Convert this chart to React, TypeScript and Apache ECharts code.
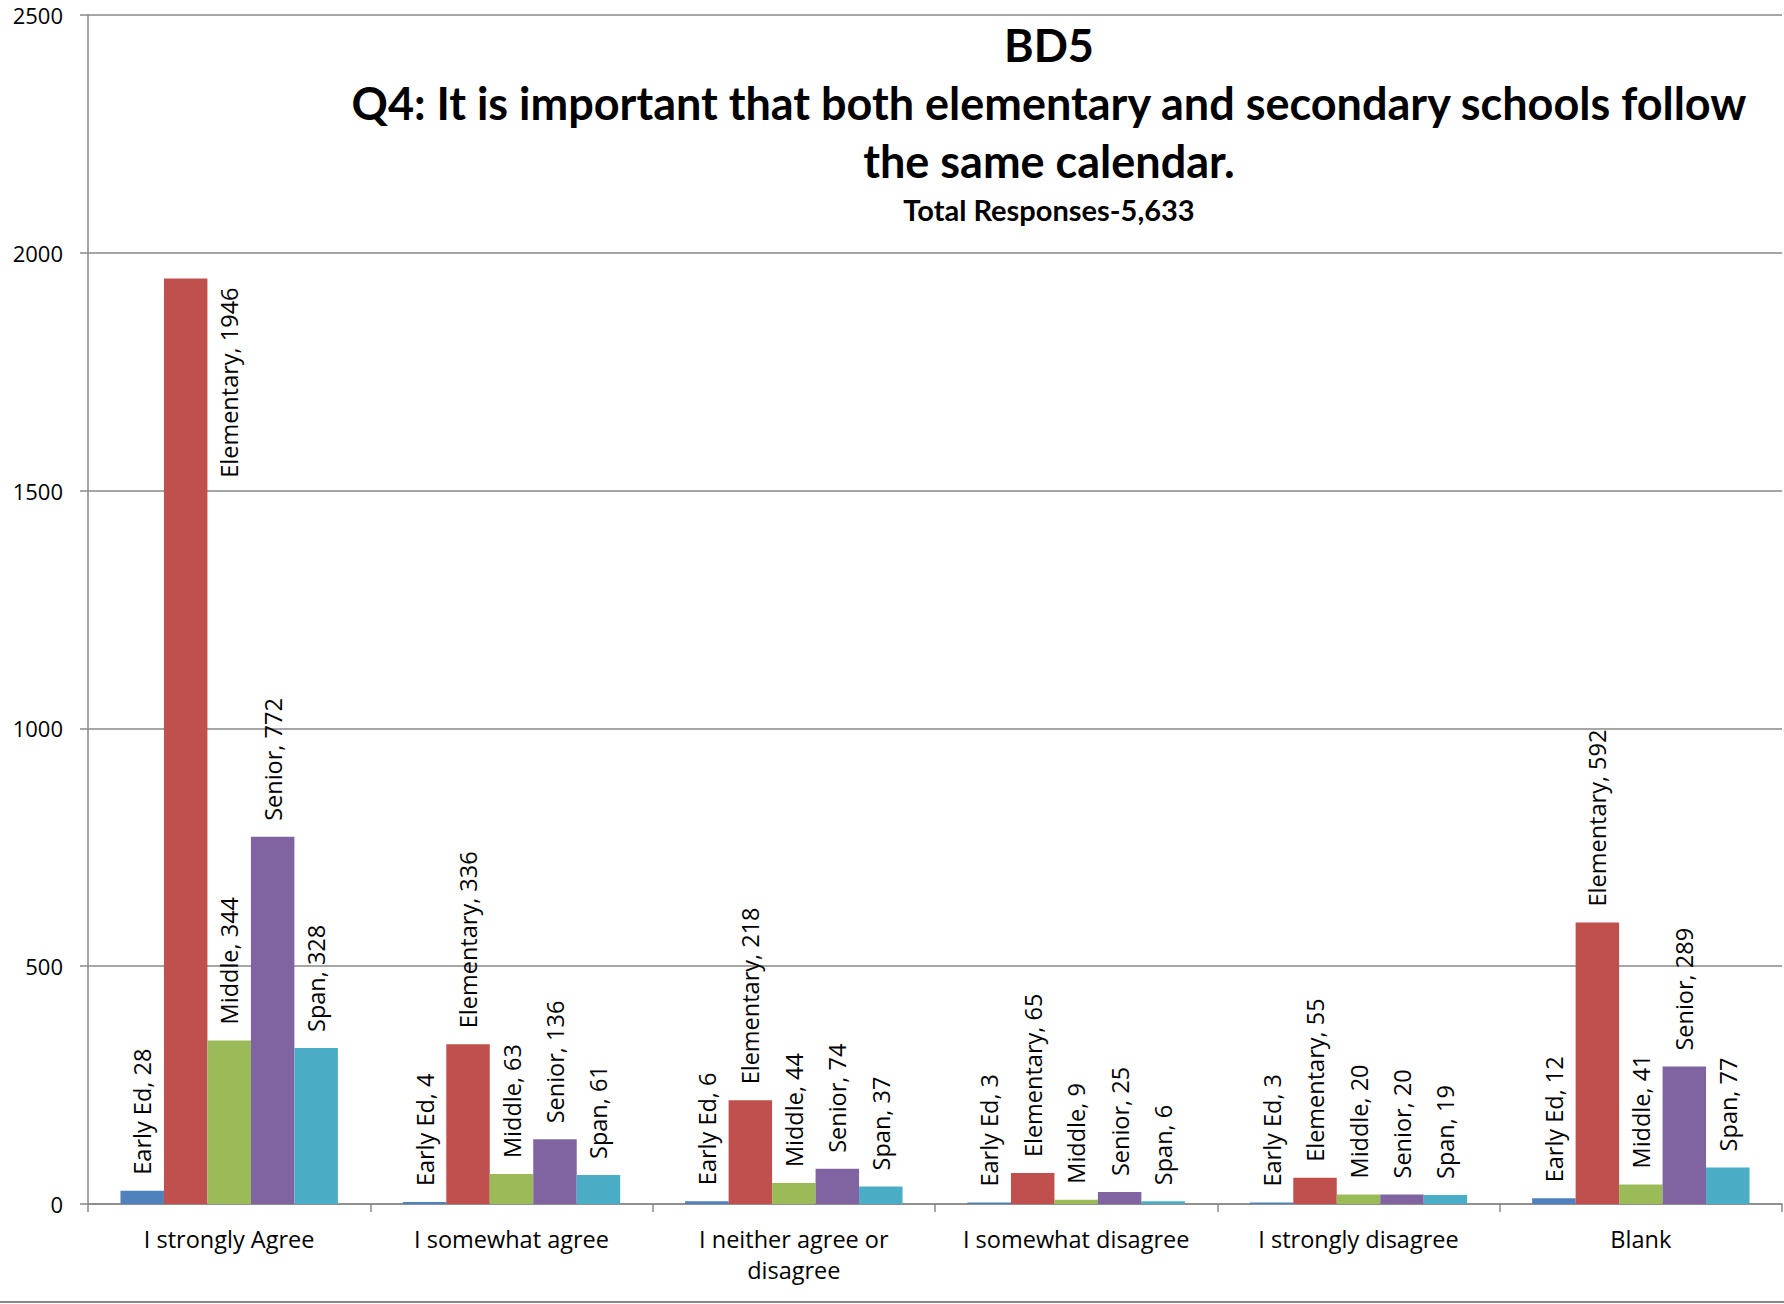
import React, { useEffect, useRef } from "react";
import * as echarts from "echarts";

const categories = [
  "I strongly Agree",
  "I somewhat agree",
  "I neither agree or\ndisagree",
  "I somewhat disagree",
  "I strongly disagree",
  "Blank",
];
const seriesNames = ["Early Ed", "Elementary", "Middle", "Senior", "Span"];
const earlyEd = [28, 4, 6, 3, 3, 12];
const elementary = [1946, 336, 218, 65, 55, 592];
const middle = [344, 63, 44, 9, 20, 41];
const senior = [772, 136, 74, 25, 20, 289];
const span = [328, 61, 37, 6, 19, 77];
const colors = ["#4F81BD", "#C0504D", "#9BBB59", "#8064A2", "#4BACC6"];
const yTicks = [0, 500, 1000, 1500, 2000, 2500];

const titleLines = [
  "BD5",
  "Q4: It is important that both elementary and secondary schools follow",
  "the same calendar.",
];
const subtitle = "Total Responses-5,633";

export default function App() {
  const ref = useRef<HTMLDivElement>(null);
  useEffect(() => {
    if (!ref.current) return;
    const chart = echarts.init(ref.current, null, { renderer: "svg" });
    const values = [earlyEd, elementary, middle, senior, span];
    const labelFont = "'Open Sans', sans-serif";
    const series = seriesNames.map((name, i) => ({
      name,
      type: "bar",
      barGap: "0%",
      barCategoryGap: "23%",
      itemStyle: { color: colors[i] },
      label: {
        show: true,
        position: "top",
        distance: 16,
        rotate: 90,
        align: "left",
        verticalAlign: "middle",
        formatter: "{a}, {c}",
        fontFamily: labelFont,
        fontSize: 23.5,
        color: "#000",
      },
      data: values[i].map((v) =>
        name === "Elementary" && v === 1946
          ? { value: v, label: { position: ["150%", 9], align: "right" } }
          : v
      ),
    }));

    chart.setOption({
      animation: false,
      backgroundColor: "#fff",
      title: {
        text: titleLines.join("\n"),
        subtext: subtitle,
        left: 1049,
        top: 16,
        textAlign: "center",
        padding: 0,
        itemGap: 2,
        textStyle: {
          fontFamily: "Lato, sans-serif",
          fontWeight: "bold",
          fontSize: 45,
          lineHeight: 58,
          color: "#000",
        },
        subtextStyle: {
          fontFamily: "Lato, sans-serif",
          fontWeight: "bold",
          fontSize: 29,
          lineHeight: 34,
          color: "#000",
        },
      },
      grid: { left: 88, right: 2, top: 15, bottom: 100, containLabel: false },
      xAxis: {
        type: "category",
        data: categories,
        axisLine: { lineStyle: { color: "#888", width: 1.5 } },
        axisTick: { show: true, length: 8, lineStyle: { color: "#888", width: 1.5 } },
        axisLabel: {
          interval: 0,
          margin: 19,
          fontFamily: labelFont,
          fontSize: 23.5,
          lineHeight: 31,
          color: "#000",
        },
      },
      yAxis: {
        type: "value",
        min: yTicks[0],
        max: yTicks[yTicks.length - 1],
        interval: 500,
        axisLine: { show: true, lineStyle: { color: "#888", width: 1.5 } },
        axisTick: { show: true, length: 8, lineStyle: { color: "#888", width: 1.5 } },
        splitLine: { lineStyle: { color: "#888", width: 1.5 } },
        axisLabel: {
          margin: 25,
          fontFamily: labelFont,
          fontSize: 22,
          color: "#000",
          formatter: (v: number) => String(v),
        },
      },
      graphic: [
        {
          type: "line",
          shape: { x1: 0, y1: 1302, x2: 1784, y2: 1302 },
          style: { stroke: "#888", lineWidth: 2 },
        },
      ],
      series,
    });
    return () => chart.dispose();
  }, []);
  return (
    <div
      ref={ref}
      style={{ position: "fixed", left: 0, top: 0, width: 1784, height: 1304 }}
    />
  );
}
